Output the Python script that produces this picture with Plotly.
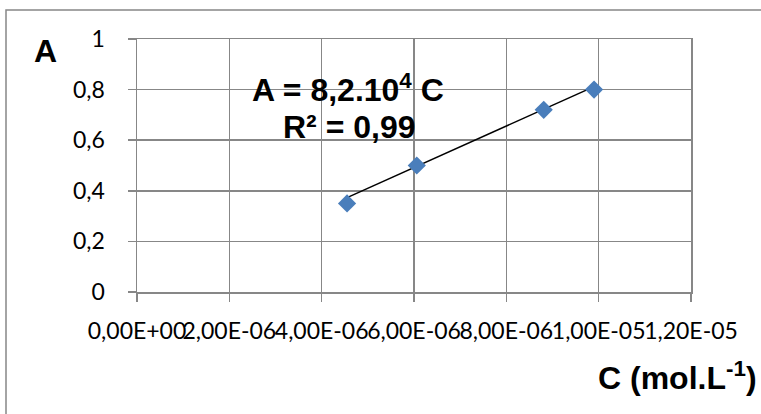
import plotly.graph_objects as go

# ---- data ----
conc = [4.55e-6, 6.06e-6, 8.81e-6, 9.90e-6]      # C (mol/L)
absorb = [0.35, 0.50, 0.72, 0.80]                # A
slope = 8.2e4                                    # trendline A = k*C (label value)
x_ticks = [0, 2e-6, 4e-6, 6e-6, 8e-6, 1e-5, 1.2e-5]
x_labels = ["0,00E+00", "2,00E-06", "4,00E-06", "6,00E-06", "8,00E-06", "1,00E-05", "1,20E-05"]
y_ticks = [0, 0.2, 0.4, 0.6, 0.8, 1]
y_labels = ["0", "0,2", "0,4", "0,6", "0,8", "1"]
eq_text = "A = 8,2.10<sup>4</sup> C"
r2_text = "R² = 0,99"
x_title = "C (mol.L<sup>-1</sup>)"
y_title = "A"

W, H = 761, 414
L, R, T, B = 137, 691, 39, 292
GRID = "#878787"

def px(x):
    return (x - L) / (R - L)

def py(y):
    return (B - y) / (B - T)

trend_x = [min(conc), max(conc)]
trend_y = [slope * v for v in trend_x]

fig = go.Figure()
fig.add_trace(go.Scatter(x=trend_x, y=trend_y, mode="lines",
                         line=dict(color="black", width=1.5), hoverinfo="skip"))
fig.add_trace(go.Scatter(x=conc, y=absorb, mode="markers",
                         marker=dict(symbol="diamond", size=14, color="#4A7EBB",
                                     line=dict(width=0))))

bold = dict(family="Liberation Sans, Arial, sans-serif", size=32, color="black", weight="bold")
tickf = dict(family="Lato, sans-serif", size=23, color="black")

fig.update_layout(
    width=W, height=H,
    margin=dict(l=L, r=W - R, t=T, b=H - B),
    paper_bgcolor="white", plot_bgcolor="white",
    showlegend=False,
    font=tickf,
    xaxis=dict(range=[0, 1.2e-5], tickvals=x_ticks, ticktext=x_labels, tickangle=0,
               showgrid=True, gridcolor=GRID, gridwidth=1.5,
               showline=True, linecolor=GRID, linewidth=1.5, mirror=True,
               ticks="outside", ticklen=8, tickcolor=GRID, tickwidth=1.5,
               ticklabelstandoff=10, zeroline=False, fixedrange=True, tickfont=tickf),
    yaxis=dict(range=[0, 1], tickvals=y_ticks, ticktext=y_labels,
               showgrid=True, gridcolor=GRID, gridwidth=1.5,
               showline=True, linecolor=GRID, linewidth=1.5, mirror=True,
               ticks="outside", ticklen=8, tickcolor=GRID, tickwidth=1.5,
               ticklabelstandoff=18, zeroline=False, fixedrange=True, tickfont=tickf),
    shapes=[
        dict(type="rect", xref="paper", yref="paper",
             x0=px(6), x1=px(800), y0=py(450), y1=py(10),
             line=dict(color=GRID, width=1.5), fillcolor="rgba(0,0,0,0)", layer="below"),
        dict(type="rect", xref="paper", yref="paper",
             x0=px(243), x1=px(452), y0=py(150), y1=py(67),
             line=dict(width=0), fillcolor="white", layer="between"),
    ],
    annotations=[
        dict(text=eq_text, xref="paper", yref="paper", x=px(347.5), y=py(88),
             xanchor="center", yanchor="middle", showarrow=False, font=bold),
        dict(text=r2_text, xref="paper", yref="paper", x=px(349), y=py(127),
             xanchor="center", yanchor="middle", showarrow=False, font=bold),
        dict(text=y_title, xref="paper", yref="paper", x=px(45), y=py(51),
             xanchor="center", yanchor="middle", showarrow=False, font=bold),
        dict(text=x_title, xref="paper", yref="paper", x=px(759), y=py(376),
             xanchor="right", yanchor="middle", showarrow=False, font=bold),
    ],
)

fig.write_html("out.html",
               config={"displayModeBar": False, "staticPlot": True},
               post_script="document.body.style.margin='0';document.body.style.overflow='hidden';")
